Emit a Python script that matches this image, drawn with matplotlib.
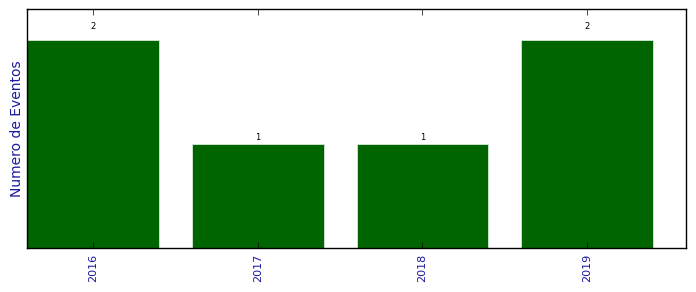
import matplotlib
matplotlib.use("Agg")
import matplotlib.pyplot as plt

years = ["2016", "2017", "2018", "2019"]
counts = [2, 1, 1, 2]

plt.style.use("classic")
fig = plt.figure(figsize=(6.96, 2.92), dpi=100)
ax = fig.add_axes([27/696, 1-248/292, (686-27)/696, (248-9)/292])
x = list(range(len(years)))
ax.bar(x, counts, width=0.8, align="center", color="#006400", edgecolor="#d8e8d8", linewidth=0.6)
for xi, c in zip(x, counts):
    ax.text(xi, c * 1.065, str(c), ha="center", va="center", fontsize=6)
ax.set_xlim(-0.4, 3.6)
ax.set_ylim(0, 2.3)
ax.set_xticks(x)
ax.set_xticklabels(years, rotation=90, color="#1a1aa0", fontsize=8)
ax.set_yticks([])
ax.set_ylabel("Numero de Eventos", color="#1a1aa0", fontsize=10, labelpad=2)
fig.savefig("out.png", dpi=100)
